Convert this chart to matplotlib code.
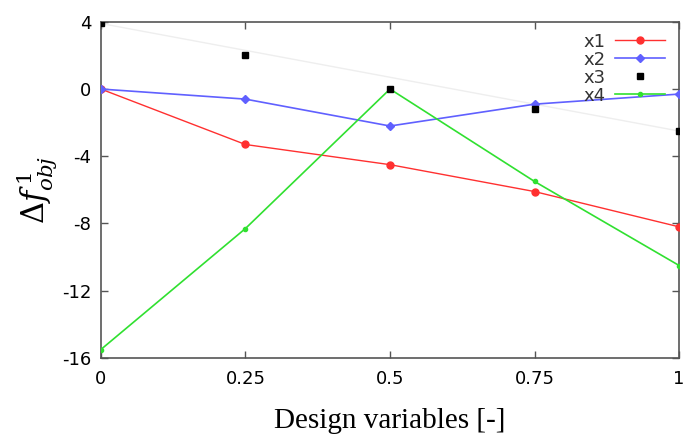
import numpy as np
import matplotlib
matplotlib.use('Agg')
from matplotlib import pyplot as plt

plt.rcParams['axes.unicode_minus'] = False
plt.rcParams['mathtext.fontset'] = 'dejavuserif'

x = [0, 0.25, 0.5, 0.75, 1]
x1 = [0, -3.3, -4.5, -6.1, -8.2]
x2 = [0, -0.6, -2.2, -0.9, -0.3]
x3 = [3.9, 2.0, 0.0, -1.2, -2.5]
x4 = [-15.5, -8.3, 0.0, -5.5, -10.5]
xticks = [0, 0.25, 0.5, 0.75, 1]
xticklabels = ['0', '0.25', '0.5', '0.75', '1']
yticks = [4, 0, -4, -8, -12, -16]

fig = plt.figure(figsize=(6.86, 4.36), dpi=100)
ax = fig.add_axes([0.147, 0.179, 0.843, 0.771])

# faint trend line behind the x3 points
ax.plot([x[0], x[-1]], [x3[0], x3[-1]], color='#eeeeee', lw=1, zorder=1)

ax.plot(x, x1, color='#ff3030', lw=1, marker='o', ms=5, label='x1', zorder=3)
ax.plot(x, x2, color='#6060ff', lw=1.2, marker='D', ms=4, label='x2', zorder=3)
ax.plot(x, x3, color='black', ls='none', marker='s', ms=5, label='x3', zorder=4)
ax.plot(x, x4, color='#30e030', lw=1.2, marker='o', ms=3, label='x4', zorder=3)

ax.set_xlim(0, 1)
ax.set_ylim(-16, 4)
ax.set_xticks(xticks)
ax.set_xticklabels(xticklabels)
ax.set_yticks(yticks)
ax.tick_params(direction='in', top=True, right=True, length=5, width=1,
               color='#555555', labelsize=13)
ax.tick_params(axis='x', pad=9)
ax.tick_params(axis='y', pad=7)
for s in ax.spines.values():
    s.set_color('#555555')
    s.set_linewidth(1.2)

ax.set_xlabel('Design variables [-]', family='Liberation Serif', fontsize=21, labelpad=14)
ax.set_ylabel(r'$\Delta f^{\,1}_{obj}$', fontsize=22, labelpad=2)

leg = ax.legend(loc='upper right', frameon=False, markerfirst=False, fontsize=13,
                handlelength=2.8, handletextpad=0.5, labelspacing=0.0,
                borderaxespad=0.2, bbox_to_anchor=(0.995, 1.0))
for t in leg.get_texts():
    t.set_color('#333333')

fig.savefig('out.png', dpi=100)
